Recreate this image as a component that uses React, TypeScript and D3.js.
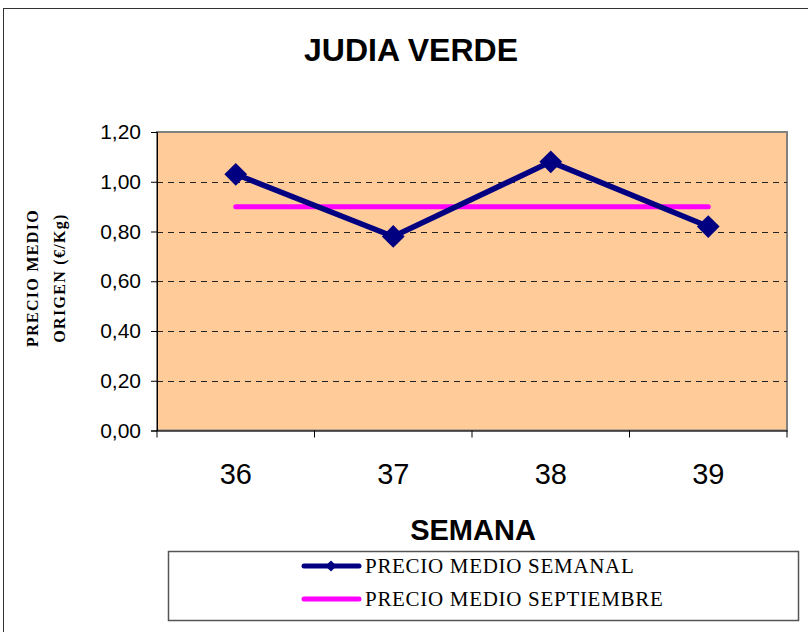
import React, { useRef, useEffect } from 'react';
import * as d3 from 'd3';

const semanas = ['36', '37', '38', '39'];
const precioSemanal = [1.03, 0.78, 1.08, 0.82];
const precioSeptiembre = [0.9, 0.9, 0.9, 0.9];
const yTicks = [0, 0.2, 0.4, 0.6, 0.8, 1.0, 1.2];
const serieNombres = ['PRECIO MEDIO SEMANAL', 'PRECIO MEDIO SEPTIEMBRE'];

const W = 808;
const H = 632;

const App = () => {
  const svgRef = useRef<SVGSVGElement | null>(null);

  useEffect(() => {
    const svg = d3.select(svgRef.current);
    svg.selectAll('*').remove();

    const plot = { left: 157, top: 132, right: 787, bottom: 430.5 };

    const x = d3.scaleBand().domain(semanas).range([plot.left, plot.right]).padding(0);
    const y = d3.scaleLinear().domain([0, 1.2]).range([plot.bottom, plot.top]);
    const cx = (d: string) => x(d)! + x.bandwidth() / 2;

    // marco exterior
    svg.append('rect')
      .attr('x', 3.5).attr('y', 8.5)
      .attr('width', W + 10).attr('height', H + 10)
      .attr('fill', 'white').attr('stroke', '#333').attr('stroke-width', 1);

    // titulo
    svg.append('text')
      .attr('x', 411).attr('y', 61)
      .attr('text-anchor', 'middle')
      .attr('font-family', 'Liberation Sans, Arial, sans-serif')
      .attr('font-weight', 'bold').attr('font-size', 32)
      .text('JUDIA VERDE');

    // area del grafico
    svg.append('rect')
      .attr('x', plot.left).attr('y', plot.top)
      .attr('width', plot.right - plot.left).attr('height', plot.bottom - plot.top)
      .attr('fill', '#FFCC99').attr('stroke', '#808080').attr('stroke-width', 2);

    // lineas de division
    svg.append('g').selectAll('line')
      .data(yTicks.filter(t => t > 0 && t < 1.2))
      .join('line')
      .attr('x1', plot.left).attr('x2', plot.right)
      .attr('y1', d => Math.round(y(d)) + 0.5).attr('y2', d => Math.round(y(d)) + 0.5)
      .attr('stroke', '#222').attr('stroke-width', 1)
      .attr('stroke-dasharray', '6,5');

    // eje Y
    const yAxis = d3.axisLeft(y)
      .tickValues(yTicks)
      .tickSize(6)
      .tickPadding(10)
      .tickFormat(d => d3.format('.2f')(d as number).replace('.', ','));

    const gy = svg.append('g')
      .attr('transform', `translate(${plot.left},0)`)
      .call(yAxis);
    gy.selectAll('text')
      .attr('font-family', 'Liberation Sans, Arial, sans-serif')
      .attr('font-size', 21).attr('fill', '#000');
    gy.selectAll('line, path').attr('stroke', '#000');

    // eje X
    const xAxis = d3.axisBottom(x).tickSize(0).tickPadding(33);
    const gx = svg.append('g')
      .attr('transform', `translate(0,${plot.bottom})`)
      .call(xAxis);
    gx.selectAll('text')
      .attr('font-family', 'Liberation Sans, Arial, sans-serif')
      .attr('font-size', 29).attr('fill', '#000');
    gx.select('.domain').attr('stroke', '#000');

    // marcas entre categorias
    svg.append('g').selectAll('line')
      .data([...semanas.map(s => x(s)!), plot.right])
      .join('line')
      .attr('x1', d => d).attr('x2', d => d)
      .attr('y1', plot.bottom).attr('y2', plot.bottom + 7)
      .attr('stroke', '#000');

    svg.append('text')
      .attr('x', 473).attr('y', 540)
      .attr('text-anchor', 'middle')
      .attr('font-family', 'Liberation Sans, Arial, sans-serif')
      .attr('font-weight', 'bold').attr('font-size', 29)
      .text('SEMANA');

    // titulo eje Y
    const yTitle = svg.append('text')
      .attr('transform', 'translate(38,278) rotate(-90)')
      .attr('text-anchor', 'middle')
      .attr('font-family', 'Liberation Serif, Times New Roman, serif')
      .attr('font-weight', 'bold').attr('font-size', 16)
      .attr('letter-spacing', 1.3);
    yTitle.append('tspan').attr('x', 0).attr('y', 0).text('PRECIO MEDIO');
    yTitle.append('tspan').attr('x', 0).attr('y', 27).text('ORIGEN (€/Kg)');

    // serie septiembre
    const line = d3.line<number>()
      .x((_, i) => cx(semanas[i]))
      .y(d => y(d));

    svg.append('path')
      .datum(precioSeptiembre)
      .attr('fill', 'none')
      .attr('stroke', '#FF00FF').attr('stroke-width', 5)
      .attr('stroke-linecap', 'round')
      .attr('d', line);

    // serie semanal
    svg.append('path')
      .datum(precioSemanal)
      .attr('fill', 'none')
      .attr('stroke', '#000080').attr('stroke-width', 5.5)
      .attr('d', line);

    const diamond = d3.symbol().type(d3.symbolDiamond2).size(330);
    svg.append('g').selectAll('path')
      .data(precioSemanal)
      .join('path')
      .attr('transform', (d, i) => `translate(${cx(semanas[i])},${y(d)})`)
      .attr('d', diamond)
      .attr('fill', '#000080');

    // leyenda
    svg.append('rect')
      .attr('x', 168.5).attr('y', 551.5)
      .attr('width', 630).attr('height', 69)
      .attr('fill', 'white').attr('stroke', '#555').attr('stroke-width', 1.5);

    const colores = ['#000080', '#FF00FF'];
    serieNombres.forEach((nombre, i) => {
      const ly = 566 + i * 33;
      svg.append('line')
        .attr('x1', 304).attr('x2', 359)
        .attr('y1', ly).attr('y2', ly)
        .attr('stroke', colores[i]).attr('stroke-width', 5)
        .attr('stroke-linecap', 'round');
      if (i === 0) {
        svg.append('path')
          .attr('transform', `translate(331,${ly})`)
          .attr('d', d3.symbol().type(d3.symbolDiamond2).size(80)())
          .attr('fill', colores[i]);
      }
      svg.append('text')
        .attr('x', 365).attr('y', ly + 7)
        .attr('font-family', 'Liberation Serif, Times New Roman, serif')
        .attr('font-size', 21)
        .attr('letter-spacing', 0.7)
        .text(nombre);
    });
  }, []);

  return (
    <div style={{ position: 'absolute', left: 0, top: 0 }}>
      <svg ref={svgRef} width={W} height={H} style={{ display: 'block' }}></svg>
    </div>
  );
};

export default App;
